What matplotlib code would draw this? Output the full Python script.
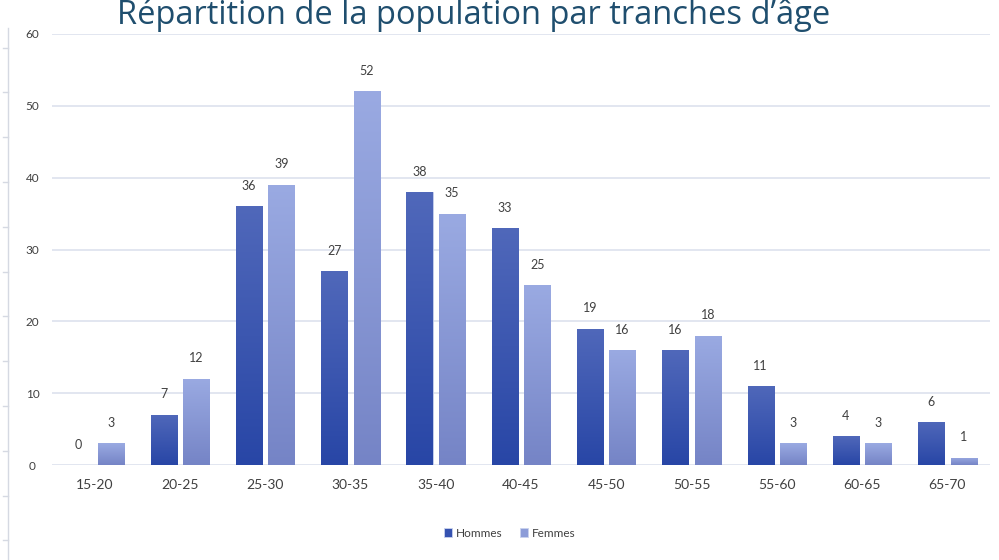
import numpy as np
import matplotlib.pyplot as plt
from matplotlib.colors import LinearSegmentedColormap

plt.rcParams['font.family'] = ['Lato', 'DejaVu Sans']

tranches = ['15-20', '20-25', '25-30', '30-35', '35-40', '40-45',
            '45-50', '50-55', '55-60', '60-65', '65-70']
hommes = [0, 7, 36, 27, 38, 33, 19, 16, 11, 4, 6]
femmes = [3, 12, 39, 52, 35, 25, 16, 18, 3, 3, 1]

fig = plt.figure(figsize=(9.99, 5.6), dpi=100)
ax = fig.add_axes([0.052, 0.1696, 0.939, 0.7697])

x = np.arange(len(tranches))
w = 0.305
off = 0.19

# degradés (haut clair -> bas foncé)
cm_h = LinearSegmentedColormap.from_list('h', ['#2846a6', '#5068ba'])
cm_f = LinearSegmentedColormap.from_list('f', ['#7584c6', '#9aaae2'])

bars_h = ax.bar(x - off, hommes, w, color='#3552b0', edgecolor='#c9d2ee',
                linewidth=0.6, zorder=3, label='Hommes')
bars_f = ax.bar(x + off, femmes, w, color='#8c9cd8', edgecolor='#c9d2ee',
                linewidth=0.6, zorder=3, label='Femmes')

grad = np.linspace(0, 1, 256).reshape(-1, 1)
for bars, cm in ((bars_h, cm_h), (bars_f, cm_f)):
    for b in bars:
        h = b.get_height()
        if h <= 0:
            continue
        x0 = b.get_x()
        im = ax.imshow(grad, cmap=cm, origin='lower', aspect='auto',
                       extent=[x0, x0 + b.get_width(), 0, h], zorder=3.5)
        im.set_clip_path(b)

for bars, vals in ((bars_h, hommes), (bars_f, femmes)):
    for b, v in zip(bars, vals):
        ax.text(b.get_x() + b.get_width() / 2, v + 2.0, str(v),
                ha='center', va='bottom', fontsize=9, color='#404040')

ax.set_xlim(-0.5, len(tranches) - 0.5)
ax.set_ylim(0, 60)
ax.set_yticks(range(0, 61, 10))
ax.set_xticks(x)
ax.set_xticklabels(tranches)
ax.tick_params(axis='x', length=0, pad=10, labelsize=10, labelcolor='#404040')
ax.tick_params(axis='y', length=0, pad=14, labelsize=8.5, labelcolor='#404040')
for lab in ax.get_yticklabels():
    lab.set_horizontalalignment('center')
ax.grid(axis='y', color='#dde2ee', linewidth=1.2, zorder=0)
for s in ax.spines.values():
    s.set_visible(False)

leg = ax.legend(loc='center', bbox_to_anchor=(0.488, -0.158), ncol=2,
                frameon=False, fontsize=8.5, handlelength=0.7,
                handleheight=0.7, columnspacing=1.5, handletextpad=0.3)
for t in leg.get_texts():
    t.set_color('#404040')

# cadre gauche
fig.add_artist(plt.Line2D([0.008, 0.008], [0.0, 0.95], color='#d5d9e2',
                          linewidth=1, transform=fig.transFigure))
for yy in np.arange(0.035, 0.95, 0.08):
    fig.add_artist(plt.Line2D([0.003, 0.008], [yy, yy], color='#d5d9e2',
                              linewidth=1, transform=fig.transFigure))

fig.text(0.474, 0.972, 'Répartition de la population par tranches d\u2019âge',
         ha='center', va='center', fontsize=23.5, color='#1f4e6e',
         family=['Open Sans', 'DejaVu Sans'])

fig.savefig('out.png', dpi=100, facecolor='white')
